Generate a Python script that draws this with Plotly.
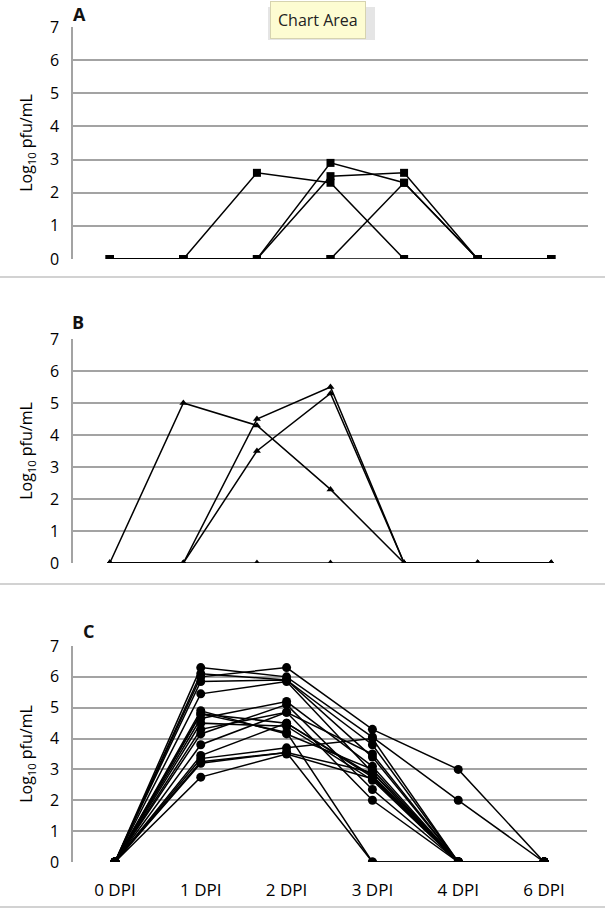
import plotly.graph_objects as go

# ---------------- data ----------------
days_ab = [0, 1, 2, 3, 4, 5, 6]          # unlabeled category positions in panels A and B
days_c = ["0 DPI", "1 DPI", "2 DPI", "3 DPI", "4 DPI", "6 DPI"]

panel_a = [
    [0, 0, 2.6, 2.3, 0, 0, 0],
    [0, 0, 0, 2.9, 2.3, 0, 0],
    [0, 0, 0, 2.5, 2.6, 0, 0],
    [0, 0, 0, 0, 2.3, 0, 0],
    [0, 0, 0, 0, 0, 0, 0],
]

panel_b = [
    [0, 5.0, 4.3, 2.3, 0, 0, 0],
    [0, 0, 4.5, 5.5, 0, 0, 0],
    [0, 0, 3.5, 5.3, 0, 0, 0],
    [0, 0, 0, 0, 0, 0, 0],
]

panel_c = [
    [0, 6.0, 6.3, 4.3, 3.0, 0],
    [0, 6.3, 6.0, 4.05, 2.0, 0],
    [0, 6.1, 5.9, 3.8, 0, 0],
    [0, 5.85, 5.9, 3.4, 0, 0],
    [0, 5.45, 5.85, 2.9, 0, 0],
    [0, 4.9, 4.15, 3.0, 0, 0],
    [0, 4.8, 4.5, 2.8, 0, 0],
    [0, 4.65, 5.2, 3.1, 0, 0],
    [0, 4.5, 4.4, 2.65, 0, 0],
    [0, 4.3, 4.85, 3.5, 0, 0],
    [0, 4.15, 5.1, 2.35, 0, 0],
    [0, 3.8, 4.85, 2.0, 0, 0],
    [0, 3.45, 4.5, 2.75, 0, 0],
    [0, 3.35, 3.7, 4.0, 0, 0],
    [0, 3.2, 3.55, 2.9, 0, 0],
    [0, 2.75, 3.5, 2.7, 0, 0],
    [0, 4.8, 4.2, 0, 0, 0],
    [0, 3.25, 3.55, 0, 0, 0],
]

y_ticks = [0, 1, 2, 3, 4, 5, 6, 7]
panel_labels = ["A", "B", "C"]
y_title = "Log<sub>10</sub> pfu/mL"

# ---------------- figure ----------------
W, H = 605, 911
fig = go.Figure()

def add_series(rows, xs, xa, ya, symbol, size):
    for r in rows:
        fig.add_trace(go.Scatter(
            x=xs, y=r, xaxis=xa, yaxis=ya, mode="lines+markers",
            line=dict(color="black", width=1.5),
            marker=dict(symbol=symbol, size=size, color="black"),
            showlegend=False, hoverinfo="skip"))

idx_c = list(range(len(days_c)))
add_series(panel_a, days_ab, "x", "y", "square", 8)
add_series(panel_b, days_ab, "x2", "y2", "triangle-up", 7)
add_series(panel_c, idx_c, "x3", "y3", "circle", 9)

def py(pix):
    return 1 - pix / H

grid_col = "#a3a3a3"
FONT = "Open Sans"
tick_font = dict(family=FONT, size=16, color="#000000")

def yaxis(top, bot):
    return dict(domain=[py(bot), py(top)], range=[0, 7], tickvals=y_ticks,
                showgrid=True, gridcolor=grid_col, gridwidth=1.5, zeroline=False,
                showline=True, linecolor=grid_col, linewidth=1.5, automargin=False,
                tickfont=tick_font, ticks="", ticklabelstandoff=9, fixedrange=True,
                title=dict(text=y_title, font=dict(family=FONT, size=16, color="#000000"),
                           standoff=13))

def xaxis(anchor, n, left, right, labels=None):
    d = dict(domain=[left / W, right / W], anchor=anchor, range=[-0.5, n - 0.5],
             showgrid=False, zeroline=False, showline=False, fixedrange=True,
             automargin=False)
    if labels:
        d.update(tickvals=list(range(n)), ticktext=labels,
                 tickfont=dict(family=FONT, size=17, color="#000000"),
                 ticks="", ticklabelstandoff=16)
    else:
        d.update(showticklabels=False, ticks="")
    return d

fig.update_layout(
    width=W, height=H, margin=dict(l=0, r=0, t=0, b=0),
    paper_bgcolor="white", plot_bgcolor="white",
    xaxis=xaxis("y", len(days_ab), 73, 588),
    xaxis2=xaxis("y2", len(days_ab), 73, 588),
    xaxis3=xaxis("y3", len(days_c), 72, 587, days_c),
    yaxis=yaxis(27, 259),
    yaxis2=yaxis(339, 563),
    yaxis3=yaxis(646, 862),
)

# panel letters
for lab, xpix, ypix in zip(panel_labels, [71, 70, 81], [14, 322, 631]):
    fig.add_annotation(x=xpix / W, y=py(ypix), xref="paper", yref="paper", text=f"<b>{lab}</b>",
                       showarrow=False, xanchor="left", yanchor="middle",
                       font=dict(family=FONT, size=18, color="#111111"))

# chart borders between panels
for ypix in [277, 584, 907]:
    fig.add_shape(type="line", xref="paper", yref="paper", x0=0, x1=1, y0=py(ypix), y1=py(ypix),
                  line=dict(color="#d2d2d2", width=2))

# "Chart Area" tooltip (soft shadow + box)
fig.add_shape(type="rect", xref="paper", yref="paper",
              x0=268 / W, x1=375 / W, y0=py(40), y1=py(7),
              fillcolor="rgba(0,0,0,0.10)", line=dict(width=0), layer="above")
fig.add_annotation(x=318 / W, y=py(20), xref="paper", yref="paper", text="Chart Area",
                   showarrow=False, xanchor="center", yanchor="middle",
                   font=dict(family=FONT, size=16, color="#222222"),
                   bgcolor="#fdfcd2", bordercolor="#d6d3b0", borderwidth=1, borderpad=7)

fig.write_html("out.html", config={"displayModeBar": False},
               post_script="document.body.style.margin='0';document.body.style.padding='0';")
